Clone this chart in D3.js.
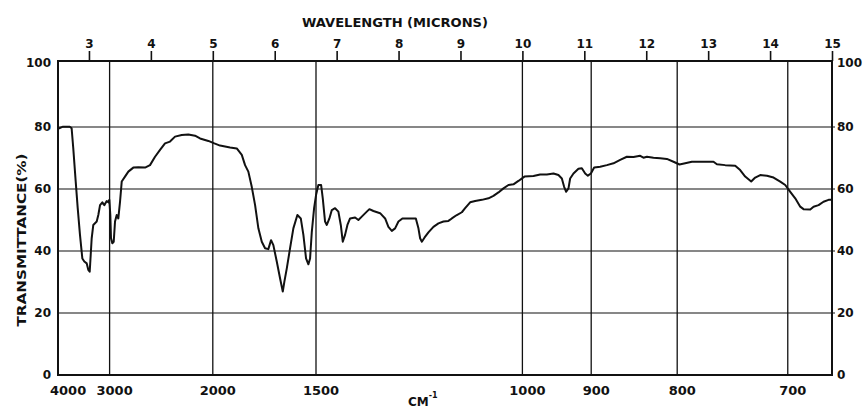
<!DOCTYPE html>
<html>
<head>
<meta charset="utf-8">
<script src="https://cdn.jsdelivr.net/npm/d3@7"></script>
<style>
  body { margin: 0; background: #fff; }
  svg { display: block; }
  text { font-family: "DejaVu Sans", sans-serif; font-weight: bold; fill: #111; }
</style>
</head>
<body>
<div id="chart"></div>
<script>
// spectrum: wavelength in microns, transmittance in %
const wavelength = [2.50, 2.58, 2.69, 2.72, 2.747, 2.786, 2.818, 2.855, 2.893, 2.925, 2.964, 2.99, 3.012, 3.022, 3.044, 3.07,
  3.125, 3.151, 3.179, 3.216, 3.248, 3.287, 3.313, 3.329, 3.345, 3.356, 3.377, 3.40, 3.421, 3.448, 3.474, 3.502, 3.529,
  3.582, 3.636, 3.716, 3.797, 3.906, 3.986, 4.067, 4.148, 4.228, 4.309, 4.39, 4.498, 4.605, 4.713, 4.794, 4.928, 5.025,
  5.117, 5.279, 5.387, 5.468, 5.521, 5.574, 5.629, 5.683, 5.736, 5.791, 5.844, 5.897, 5.941, 5.978, 6.033, 6.086, 6.13,
  6.156, 6.195, 6.248, 6.301, 6.366, 6.421, 6.463, 6.506, 6.544, 6.571, 6.599, 6.636, 6.668, 6.705, 6.749, 6.776, 6.813,
  6.841, 6.883, 6.922, 6.975, 7.028, 7.067, 7.099, 7.136, 7.174, 7.217, 7.298, 7.351, 7.406, 7.487, 7.529, 7.594, 7.702,
  7.783, 7.836, 7.891, 7.944, 7.998, 8.062, 8.159, 8.279, 8.321, 8.348, 8.376, 8.418, 8.482, 8.563, 8.644, 8.725, 8.805,
  8.86, 8.941, 9.022, 9.075, 9.156, 9.237, 9.345, 9.452, 9.532, 9.613, 9.694, 9.775, 9.855, 9.936, 10.033, 10.179,
  10.287, 10.395, 10.502, 10.582, 10.637, 10.674, 10.707, 10.744, 10.771, 10.825, 10.905, 10.96, 11.014, 11.057, 11.106,
  11.159, 11.256, 11.364, 11.471, 11.579, 11.687, 11.794, 11.902, 11.955, 12.011, 12.117, 12.225, 12.333, 12.44, 12.537,
  12.629, 12.737, 12.899, 13.086, 13.141, 13.275, 13.437, 13.517, 13.598, 13.695, 13.76, 13.841, 13.949, 14.056, 14.164,
  14.245, 14.326, 14.406, 14.487, 14.54, 14.649, 14.702, 14.783, 14.863, 14.944, 15.0];
const transmittance = [79.4, 80.1, 80.1, 79.6, 73, 62.4, 53.9, 45.2, 37.6, 36.6, 36, 33.9, 33.3, 36.6, 44.1, 48.4,
  49.5, 51.6, 54.8, 55.7, 54.8, 56.1, 55.7, 56.5, 51.6, 44.1, 42.5, 43, 49.5, 51.6, 50.5, 55.9, 62.4,
  64, 65.6, 66.9, 67, 66.9, 67.7, 70.4, 72.6, 74.7, 75.3, 76.9, 77.4, 77.6, 77.2, 76.3, 75.5, 74.7,
  74, 73.4, 73.1, 71, 67.7, 65.6, 60.7, 54.8, 47.3, 43, 40.9, 40.6, 43.5, 41.9, 36.6, 31.2, 26.9,
  30.1, 34.4, 40.9, 47.3, 51.6, 50.5, 45.2, 37.6, 35.7, 37.6, 46.2, 53.8, 58.1, 61.3, 61.3, 57, 49.5,
  48.4, 50.5, 53.2, 53.8, 52.7, 48.4, 43, 45.2, 48.4, 50.5, 50.8, 50, 51.1, 52.7, 53.5, 52.9, 52.2,
  50.5, 47.8, 46.5, 47.3, 49.5, 50.5, 50.5, 50.5, 47.3, 44.1, 43, 44.3, 46, 47.8, 48.9, 49.5, 49.7,
  50.5, 51.6, 52.5, 53.8, 55.7, 56.1, 56.5, 57, 57.8, 58.9, 60.2, 61.3, 61.5, 62.6, 64, 64.2,
  64.7, 64.7, 65, 64.5, 63.4, 60.7, 59.1, 60.2, 63.4, 65, 66.5, 66.7, 65, 64.3, 65,
  66.9, 67.2, 67.7, 68.3, 69.4, 70.4, 70.3, 70.7, 70.1, 70.4, 70.1, 69.9, 69.7, 68.8, 67.9,
  68.3, 68.8, 68.8, 68.8, 68, 67.7, 67.5, 66.1, 64, 62.4, 63.7, 64.5, 64.3, 63.7, 62.4,
  61.3, 59.1, 57, 54.3, 53.5, 53.4, 54.3, 54.8, 55.9, 56.5, 56.5];

const micronTicks = [3, 4, 5, 6, 7, 8, 9, 10, 11, 12, 13, 14, 15];
const wavenumberLabels = [4000, 3000, 2000, 1500, 1000, 900, 800, 700];
const wavenumberGrid = [3000, 2000, 1500, 1000, 900, 800, 700];
const transTicks = [0, 20, 40, 60, 80, 100];
const transGrid = [20, 40, 60, 80];

const w = 863, h = 409;
const left = 58, right = 832, bottom = 375, frameTop = 61;

const svg = d3.select("#chart").append("svg")
    .attr("width", w)
    .attr("height", h);

const x = d3.scaleLinear().domain([2.5, 15]).range([left, right]);
const y = d3.scaleLinear().domain([0, 100]).range([bottom, 65]);
// wavenumber (cm-1) -> microns
const toMicron = (nu) => 10000 / nu;

// horizontal grid
svg.append("g").selectAll("line")
    .data(transGrid)
    .enter()
    .append("line")
    .attr("x1", left).attr("x2", right + 3)
    .attr("y1", d => y(d)).attr("y2", d => y(d))
    .attr("stroke", "#111").attr("stroke-width", 1.1);

// vertical grid at wavenumbers
svg.append("g").selectAll("line")
    .data(wavenumberGrid)
    .enter()
    .append("line")
    .attr("x1", d => x(toMicron(d))).attr("x2", d => x(toMicron(d)))
    .attr("y1", frameTop).attr("y2", bottom)
    .attr("stroke", "#111").attr("stroke-width", 1.3);

// frame
svg.append("rect")
    .attr("x", left).attr("y", frameTop)
    .attr("width", right - left).attr("height", bottom - frameTop)
    .attr("fill", "none").attr("stroke", "#111").attr("stroke-width", 2);

// top axis (microns)
const topAxis = svg.append("g")
    .attr("transform", `translate(0,${frameTop})`)
    .call(d3.axisTop(x).tickValues(micronTicks).tickSize(10).tickPadding(3).tickFormat(d3.format("d")));
topAxis.select(".domain").remove();
topAxis.selectAll("line").attr("stroke", "#111").attr("stroke-width", 1.6);
topAxis.selectAll("text").style("font-size", "12px").attr("fill", "#111");

svg.append("text")
    .attr("x", 395).attr("y", 27)
    .attr("text-anchor", "middle")
    .attr("textLength", 186).attr("lengthAdjust", "spacingAndGlyphs")
    .style("font-size", "13px")
    .text("WAVELENGTH (MICRONS)");

// bottom labels (cm-1)
svg.append("g").selectAll("text")
    .data(wavenumberLabels)
    .enter()
    .append("text")
    .attr("x", (d, i) => i == 0 ? x(toMicron(d)) - 8 : x(toMicron(d)) + 5)
    .attr("y", 395)
    .attr("text-anchor", (d, i) => i == 0 ? "start" : "middle")
    .style("font-size", "13px")
    .text(d => d);

const cm = svg.append("text")
    .attr("x", 408).attr("y", 406)
    .style("font-size", "12px");
cm.append("tspan").text("CM");
cm.append("tspan").attr("dy", -8).style("font-size", "8px").text("-1");

// left and right transmittance labels
svg.append("g").selectAll("text")
    .data(transTicks)
    .enter()
    .append("text")
    .attr("x", left - 7)
    .attr("y", d => d == 100 ? y(d) - 2 : y(d))
    .attr("dy", "0.36em")
    .attr("text-anchor", "end")
    .style("font-size", "12px")
    .text(d => d);

svg.append("g").selectAll("text")
    .data(transTicks)
    .enter()
    .append("text")
    .attr("x", right + 5)
    .attr("y", d => d == 100 ? y(d) - 2 : y(d))
    .attr("dy", "0.36em")
    .attr("text-anchor", "start")
    .style("font-size", "12px")
    .text(d => d);

svg.append("text")
    .attr("transform", `translate(26,240) rotate(-90)`)
    .attr("text-anchor", "middle")
    .attr("textLength", 173).attr("lengthAdjust", "spacingAndGlyphs")
    .style("font-size", "12.5px")
    .text("TRANSMITTANCE(%)");

// the spectrum
const points = wavelength.map((d, i) => ({mu: d, t: transmittance[i]}));
const line = d3.line()
    .x(d => x(d.mu))
    .y(d => y(d.t));
svg.append("path")
    .datum(points)
    .attr("d", line)
    .attr("fill", "none")
    .attr("stroke", "#111")
    .attr("stroke-width", 2)
    .attr("stroke-linejoin", "round");
</script>
</body>
</html>
